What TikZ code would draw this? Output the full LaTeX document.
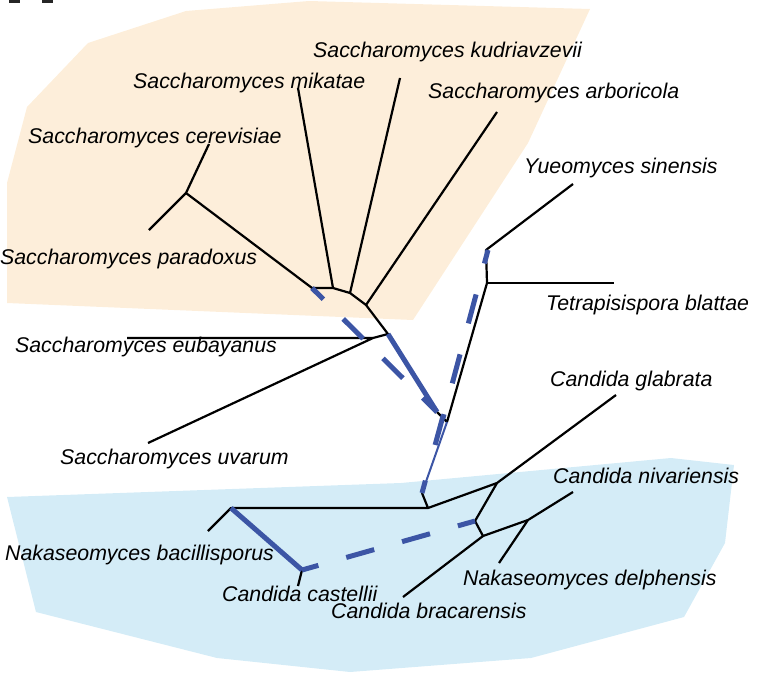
\documentclass[tikz,border=0pt]{standalone}
\usepackage{fontspec}
\setmainfont{Liberation Sans}
\definecolor{orfill}{RGB}{253,238,218}
\definecolor{blfill}{RGB}{212,236,247}
\definecolor{blline}{RGB}{60,85,165}
\begin{document}
\begin{tikzpicture}[x=1pt,y=-1pt,
  lbl/.style={anchor=base west, inner sep=0pt, font=\fontsize{21.3}{25}\selectfont\itshape},
  br/.style={line width=2.2pt, black, line join=round},
  bthick/.style={line width=5pt, blline},
  bdash/.style={line width=5pt, blline, dash pattern=on 29pt off 29pt},
  bthin/.style={line width=2pt, blline}]
\useasboundingbox (0,0) rectangle (759,677);
% regions
\fill[orfill] (88,43) -- (186,11) -- (309,1) -- (590,9) -- (528,143) -- (413,320) -- (7,303) -- (7,183) -- (27,107) -- cycle;
\fill[blfill] (7,497) -- (401,483) -- (671,458) -- (734,465) -- (725,543) -- (684,617) -- (531,658) -- (350,672) -- (217,658) -- (36,612) -- cycle;
% cut-off marks at top
\fill[black!85] (9,0) rectangle (20,3);
\fill[black!85] (42,0) rectangle (53,3);
% coordinates
\coordinate (cerT) at (209,144);
\coordinate (cerJ) at (186,193);
\coordinate (parT) at (149,230);
\coordinate (A) at (312,288);
\coordinate (B) at (333,288);
\coordinate (mikT) at (298,88);
\coordinate (C) at (350,293);
\coordinate (kudT) at (400,78);
\coordinate (D) at (366,305);
\coordinate (arbT) at (497,112);
\coordinate (E) at (388,334);
\coordinate (F) at (373,338);
\coordinate (eubT) at (127,338);
\coordinate (uvaT) at (148,443);
\coordinate (G) at (437,412);
\coordinate (H) at (447,422);
\coordinate (I) at (487,283);
\coordinate (J) at (486,250);
\coordinate (yueT) at (573,184);
\coordinate (tetT) at (614,283);
\coordinate (K) at (422,493);
\coordinate (L) at (428,508);
\coordinate (M) at (231,508);
\coordinate (bacT) at (208,531);
\coordinate (N) at (302,570);
\coordinate (casT) at (298,586);
\coordinate (O) at (497,483);
\coordinate (glaT) at (616,395);
\coordinate (P) at (475,521);
\coordinate (Q) at (483,536);
\coordinate (R) at (528,520);
\coordinate (nivT) at (573,492);
\coordinate (delT) at (499,563);
\coordinate (braT) at (403,597);
\coordinate (p1s) at (488,250);
\coordinate (p1e) at (443,418);
\coordinate (p4s) at (443,416);
\coordinate (p3e) at (475,521);
% black tree
\draw[br] (cerT) -- (cerJ) -- (parT);
\draw[br] (cerJ) -- (A) -- (B) -- (C) -- (D) -- (E) -- (F);
\draw[br] (B) -- (mikT);
\draw[br] (C) -- (kudT);
\draw[br] (D) -- (arbT);
\draw[br] (eubT) -- (F) -- (uvaT);
\draw[br] (G) -- (H) -- (I) -- (J) -- (yueT);
\draw[br] (I) -- (tetT);
\draw[br] (K) -- (L) -- (M) -- (bacT);
\draw[br] (N) -- (casT);
\draw[br] (L) -- (O) -- (glaT);
\draw[br] (O) -- (P) -- (Q) -- (R) -- (nivT);
\draw[br] (R) -- (delT);
\draw[br] (Q) -- (braT);
% blue overlay
\draw[bthick] (E) -- (G);
\draw[bthick] (M) -- (N);
\draw[bthin] (H) -- (K);
\draw[bdash, dash pattern=on 28pt off 28pt, dash phase=12pt] (A) -- (G);
\draw[bdash, dash pattern=on 30pt off 32pt, dash phase=16pt] (p1s) -- (p1e);
\draw[bdash, dash pattern=on 30pt off 37pt] (p4s) -- (K);
\draw[bdash, dash phase=12pt] (N) -- (p3e);
% labels
\node[lbl] (kud) at (313,57) {Saccharomyces kudriavzevii};
\node[lbl] (mik) at (133,88) {Saccharomyces mikatae};
\node[lbl] (arb) at (428,98) {Saccharomyces arboricola};
\node[lbl] (cer) at (28,143) {Saccharomyces cerevisiae};
\node[lbl] (yue) at (524,173) {Yueomyces sinensis};
\node[lbl] (par) at (0,264) {Saccharomyces paradoxus};
\node[lbl] (tet) at (546,310) {Tetrapisispora blattae};
\node[lbl] (eub) at (15,352) {Saccharomyces eubayanus};
\node[lbl] (gla) at (550,386) {Candida glabrata};
\node[lbl] (uva) at (60,464) {Saccharomyces uvarum};
\node[lbl] (niv) at (553,483) {Candida nivariensis};
\node[lbl] (bac) at (5,560) {Nakaseomyces bacillisporus};
\node[lbl] (del) at (463,585) {Nakaseomyces delphensis};
\node[lbl] (cas) at (222,601) {Candida castellii};
\node[lbl] (bra) at (331,618) {Candida bracarensis};
\end{tikzpicture}
\end{document}
